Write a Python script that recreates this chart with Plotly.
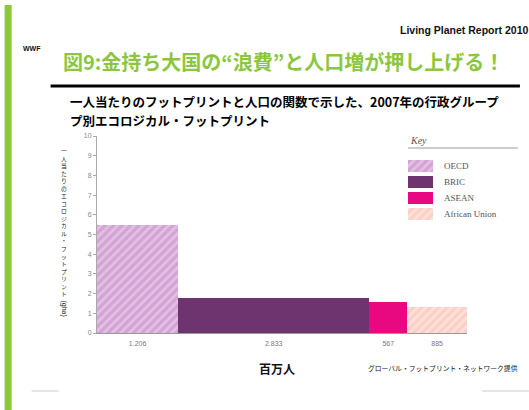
import numpy as np
import plotly.graph_objects as go

# ---- data ----
groups = ["OECD", "BRIC", "ASEAN", "African Union"]
population_m = [1206, 2833, 567, 885]          # millions
footprint_gha = [5.5, 1.8, 1.55, 1.3]          # gha per person
pop_labels = ["1.206", "2.833", "567", "885"]
y_ticks = list(range(0, 11))

# ---- styles ----
bar_colors = ["#d3a3d5", "#6d3470", "#e8087f", "#f9d0c6"]
pattern_shapes = ["/", "", "", "/"]
pattern_fg = ["#f1dff2", "#6d3470", "#e8087f", "#fff1ec"]

W, H = 529, 410
L, R, T, B = 96.5, 62, 136, 77
PW, PH = W - L - R, H - T - B

def px(x):
    return (x - L) / PW

def py(y):
    return (H - B - y) / PH

pop = np.array(population_m, dtype=float)
lefts = np.concatenate([[0], np.cumsum(pop)[:-1]])
centers = lefts + pop / 2

fig = go.Figure()
for i, g in enumerate(groups):
    pat = dict(shape=pattern_shapes[i], fgcolor=pattern_fg[i], bgcolor=bar_colors[i],
               size=6, solidity=0.45)
    # main chart bar
    fig.add_trace(go.Bar(
        x=[centers[i]], y=[footprint_gha[i]], width=[pop[i]], name=g,
        marker=dict(color=bar_colors[i], line=dict(width=0), pattern=pat),
        showlegend=False, xaxis="x", yaxis="y", hoverinfo="skip",
    ))
    # key swatch
    fig.add_trace(go.Bar(
        x=[1], y=[g], orientation="h", name=g,
        marker=dict(color=bar_colors[i], line=dict(width=0), pattern=pat),
        showlegend=False, xaxis="x2", yaxis="y2", width=0.7, hoverinfo="skip",
    ))

jp = "Noto Sans CJK JP"
annotations = []

# title & header
annotations.append(dict(xref="paper", yref="paper", x=px(60), y=py(61), xanchor="left", yanchor="middle",
                        text="<b>図9:金持ち大国の“浪費”と人口増が押し上げる！</b>", showarrow=False,
                        font=dict(family=jp, size=20, color="#8cc63f")))
annotations.append(dict(xref="paper", yref="paper", x=px(398), y=py(30), xanchor="left", yanchor="middle",
                        text="<b>Living Planet Report 2010</b>", showarrow=False,
                        font=dict(family="Liberation Sans", size=10.5, color="#111")))
annotations.append(dict(xref="paper", yref="paper", x=px(31), y=py(49), xanchor="center", yanchor="middle",
                        text="<b>WWF</b>", showarrow=False,
                        font=dict(family="Liberation Sans", size=7, color="#111")))
annotations.append(dict(xref="paper", yref="paper", x=px(68), y=py(102), xanchor="left", yanchor="middle",
                        text="<b>一人当たりのフットプリントと人口の関数で示した、2007年の行政グループ</b>",
                        showarrow=False, borderpad=0,
                        font=dict(family=jp, size=12.5, color="#000")))
annotations.append(dict(xref="paper", yref="paper", x=px(68), y=py(120.5), xanchor="left", yanchor="middle",
                        text="<b>プ別エコロジカル・フットプリント</b>", showarrow=False, borderpad=0,
                        font=dict(family=jp, size=12.5, color="#000")))
annotations.append(dict(xref="paper", yref="paper", x=px(408), y=py(140), xanchor="left", yanchor="middle",
                        text="<i>Key</i>", showarrow=False,
                        font=dict(family="Liberation Serif", size=10, color="#555")))

# vertical y-axis title (upright characters, stacked)
ytitle = "一人当たりのエコロジカル・フットプリント"
annotations.append(dict(xref="paper", yref="paper", x=px(63), y=py(145), xanchor="center", yanchor="top",
                        text="<br>".join(ytitle), showarrow=False, borderpad=0,
                        font=dict(family=jp, size=5.8, color="#222")))
annotations.append(dict(xref="paper", yref="paper", x=px(63), y=py(308), xanchor="center", yanchor="middle",
                        text="(gha)", textangle=90, showarrow=False,
                        font=dict(family="Liberation Sans", size=7, color="#222")))

# x axis title & source
annotations.append(dict(xref="paper", yref="paper", x=px(277), y=py(368), xanchor="center", yanchor="middle",
                        text="<b>百万人</b>", showarrow=False,
                        font=dict(family=jp, size=12, color="#111")))
annotations.append(dict(xref="paper", yref="paper", x=px(366), y=py(368), xanchor="left", yanchor="middle",
                        text="グローバル・フットプリント・ネットワーク提供", showarrow=False,
                        font=dict(family=jp, size=6.8, color="#111")))

shapes = [
    dict(type="rect", xref="paper", yref="paper", x0=px(4), x1=px(11), y0=py(5), y1=py(412),
         fillcolor="#8cc63f", line=dict(width=0), layer="above"),
    dict(type="line", xref="paper", yref="paper", x0=px(50), x1=px(520), y0=py(86), y1=py(86),
         line=dict(color="#000", width=3)),
    dict(type="line", xref="paper", yref="paper", x0=px(408), x1=px(518), y0=py(148), y1=py(148),
         line=dict(color="#999", width=1)),
    dict(type="line", xref="paper", yref="paper", x0=px(31), x1=px(58), y0=py(391), y1=py(391),
         line=dict(color="#ccc", width=1)),
    dict(type="line", xref="paper", yref="paper", x0=px(482), x1=px(529), y0=py(391), y1=py(391),
         line=dict(color="#ccc", width=1)),
]

fig.update_layout(
    width=W, height=H,
    margin=dict(l=L, r=R, t=T, b=B, pad=0, autoexpand=False),
    paper_bgcolor="white", plot_bgcolor="white",
    bargap=0, barmode="overlay", showlegend=False, hovermode=False,
    annotations=annotations, shapes=shapes,
    xaxis=dict(range=[0, float(pop.sum())], tickvals=centers, ticktext=pop_labels,
               showgrid=False, zeroline=False, showline=True, linecolor="#999", linewidth=1,
               ticks="", ticklabelstandoff=4,
               tickfont=dict(family="Liberation Sans", size=7, color="#777"), fixedrange=True),
    yaxis=dict(range=[0, 10], tickvals=y_ticks, showgrid=False, zeroline=False,
               showline=True, linecolor="#aaa", linewidth=1, ticks="outside", ticklen=3,
               tickcolor="#aaa", tickfont=dict(family="Liberation Sans", size=7, color="#888"),
               fixedrange=True),
    xaxis2=dict(domain=[px(408), px(433)], range=[0, 1], anchor="y2", visible=False, fixedrange=True),
    yaxis2=dict(domain=[py(222), py(158)], anchor="x2", side="right", autorange="reversed",
                showgrid=False, zeroline=False, showline=False, ticks="",
                ticklabelstandoff=10,
                tickfont=dict(family="Liberation Serif", size=9, color="#555"), fixedrange=True),
)

fig.write_html("out.html", config={"displayModeBar": False},
               post_script="document.body.style.margin='0';")
